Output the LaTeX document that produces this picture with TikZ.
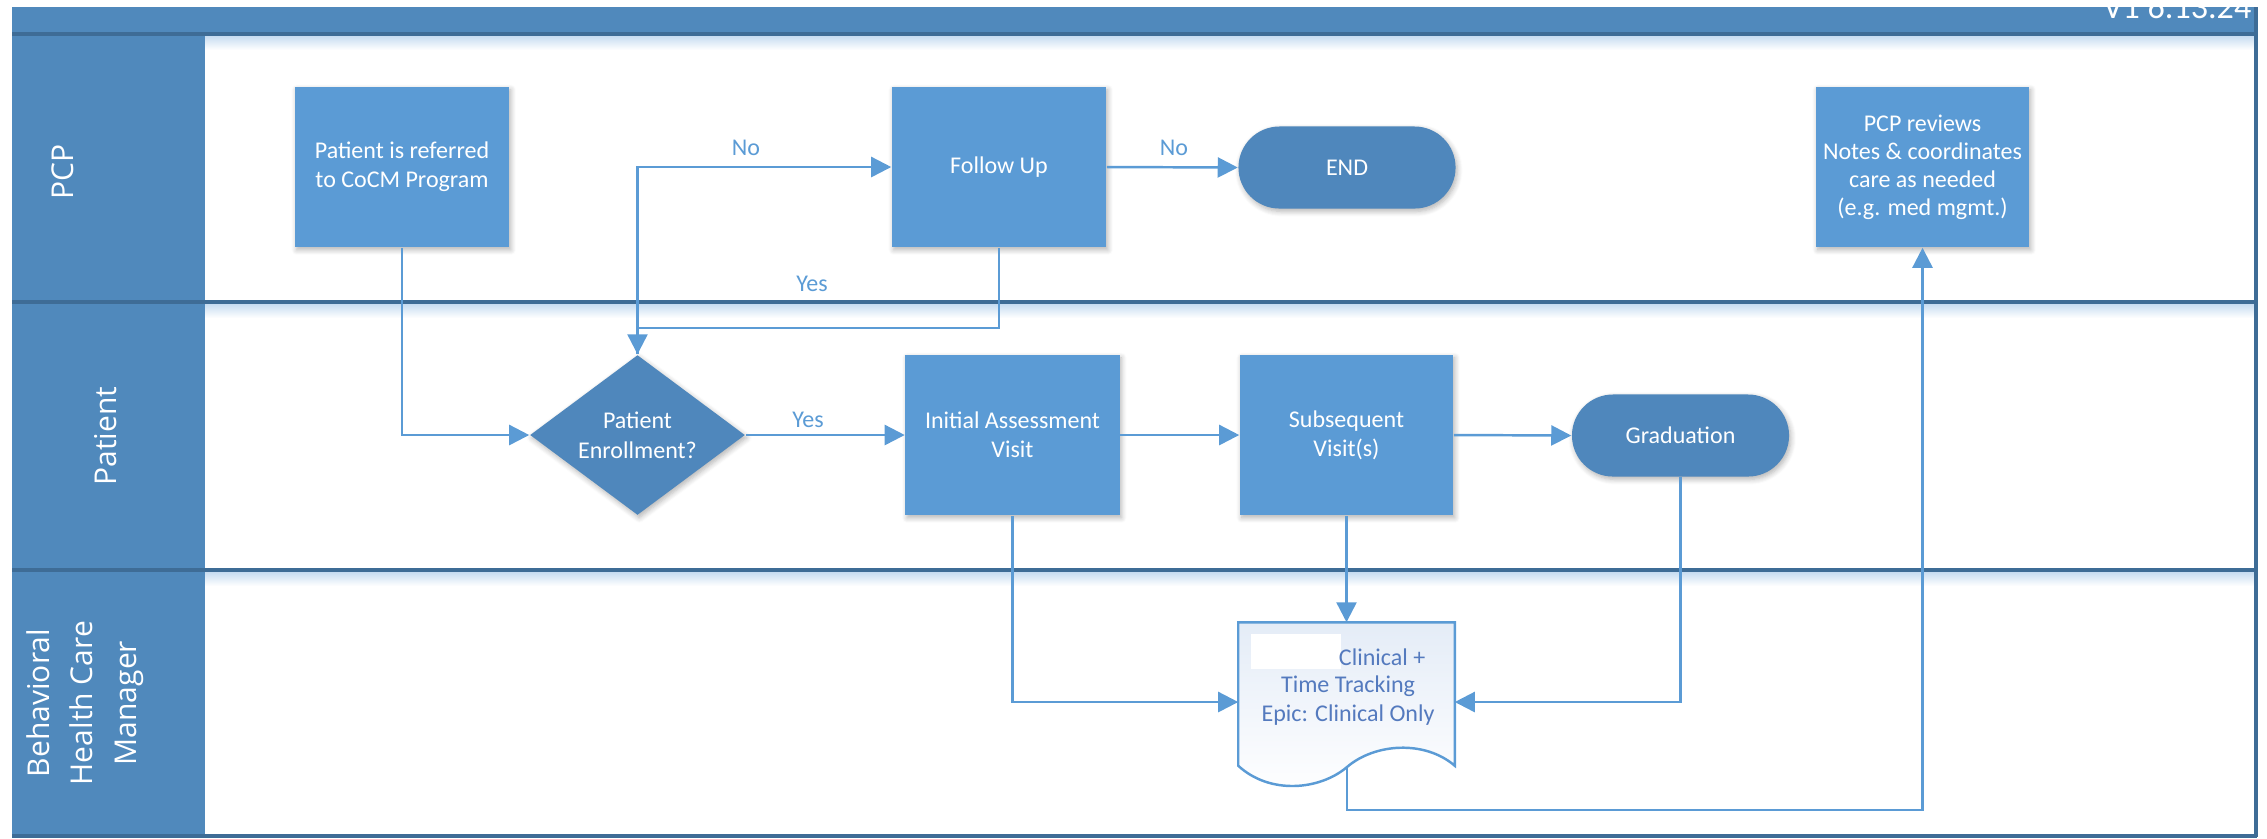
\documentclass[tikz,border=0pt]{standalone}
\usepackage{fontspec}
\setmainfont{Carlito}
\newfontfamily\lanefont{Open Sans}
\usetikzlibrary{arrows.meta,shapes.geometric,shadows.blur,calc}
\definecolor{procblue}{RGB}{91,155,213}
\definecolor{darkfill}{RGB}{79,135,188}
\definecolor{hdrblue}{RGB}{80,137,188}
\definecolor{divline}{RGB}{62,108,150}
\definecolor{shadeblue}{RGB}{195,218,240}
\definecolor{doctop}{RGB}{228,236,247}
\definecolor{doctext}{RGB}{84,122,190}
\newcommand{\boxfont}{\fontsize{6.83pt}{8.25pt}\selectfont}
\newcommand{\lanesize}{\lanefont\fontsize{8.54pt}{12.4pt}\selectfont}
\begin{document}
\begin{tikzpicture}[x=0.01cm,y=-0.01cm,
  softshadow/.style={blur shadow={shadow xshift=0.5pt, shadow yshift=-0.8pt, shadow blur radius=1.5pt, shadow opacity=30, shadow blur steps=6}},
  proc/.style={rectangle, fill=procblue, text=white, align=center, font=\boxfont, inner sep=0pt, minimum width=2.14cm, minimum height=1.6cm, softshadow},
  term/.style={rectangle, rounded corners=0.41cm, fill=darkfill, text=white, font=\boxfont, inner sep=0pt, minimum width=2.17cm, minimum height=0.82cm, softshadow},
  decision/.style={diamond, aspect=1.5, fill=darkfill, text=white, align=center, inner sep=0pt, minimum width=2.15cm, minimum height=1.6cm, softshadow},
  conn/.style={draw=procblue, line width=0.7pt},
  arr/.style={conn, -{Triangle[length=0.2cm, width=0.2cm]}},
  flowlabel/.style={text=procblue, font=\boxfont, inner sep=0pt},
  lanelabel/.style={text=white, font=\lanesize, rotate=90, align=center, inner sep=0pt},
  divider/.style={draw=divline, line width=1pt},
  doclabel/.style={text=doctext, font=\boxfont, inner sep=0pt},
]
\useasboundingbox (0,0) rectangle (2267,838);
% lanes background
\fill[hdrblue] (12,7) rectangle (2257,34);
\fill[hdrblue] (12,34) rectangle (205,836);
\shade[top color=shadeblue, bottom color=white] (205,35) rectangle (2255,50);
\shade[top color=shadeblue, bottom color=white] (205,303) rectangle (2255,318);
\shade[top color=shadeblue, bottom color=white] (205,571) rectangle (2255,586);
\draw[divider] (12,34) -- (2257,34);
\draw[divider] (12,302) -- (2257,302);
\draw[divider] (12,570) -- (2257,570);
\draw[divider] (2256,7) -- (2256,837);
\draw[divider] (12,836) -- (2257,836);
\node[anchor=base east, text=white, font=\fontsize{9.7pt}{11pt}\selectfont, inner sep=0pt] (ver) at (2252,18) {V1 6.13.24};
% lane labels
\node[lanelabel] (lpcp) at (63,172) {PCP};
\node[lanelabel] (lpat) at (106,436) {Patient};
\node[lanelabel] (lbh) at (85,703) {Behavioral\\Health Care\\Manager};
% shapes
\node[proc] (ref) at (402,167) {Patient is referred\\to CoCM Program};
\node[proc] (fu) at (999,167) {Follow Up};
\node[term] (endnode) at (1347,167.5) {END};
\node[proc, minimum width=2.13cm, font=\fontsize{6.83pt}{8pt}\selectfont] (pcpr) at (1922.5,167) {PCP reviews\\Notes \& coordinates\\care as needed\\(e.g. med mgmt.)};
\node[decision, font=\fontsize{6.83pt}{8.6pt}\selectfont] (dec) at (637.5,435) {Patient\\Enrollment?};
\node[proc] (init) at (1012.5,435) {Initial Assessment\\Visit};
\node[proc, minimum width=2.13cm] (subs) at (1346.5,435) {Subsequent\\Visit(s)};
\node[term] (grad) at (1680.5,435.5) {Graduation};
\node[minimum width=2.15cm, minimum height=1.42cm, inner sep=0pt] (doc) at (1346.5,694) {};
\path[draw=procblue, line width=0.7pt, top color=doctop, bottom color=white]
  (doc.south west) -- (doc.north west) -- (doc.north east) -- (doc.south east)
  .. controls (1425,740) and (1375,743) .. (1347,767)
  .. controls (1320,790) and (1270,795) .. (doc.south west) -- cycle;
\coordinate (docout) at (1347,767);
\fill[white] (1251,634) rectangle (1341,669);
\node[doclabel, anchor=east] (doct1) at (1426,657) {Clinical +};
\node[doclabel] (doct2) at (1348,686) {Time Tracking};
\node[doclabel] (doct3) at (1348,715) {Epic: Clinical Only};
% connectors
\coordinate (yesy) at (999,328);
\coordinate (loopc) at (1347,810);
\draw[arr] (ref.south) |- (dec.west);
\draw[arr] (dec.north) |- (fu.west);
\draw[arr] (fu.south) |- (dec.north |- yesy) -- (dec.north);
\draw[arr] (fu.east) -- (endnode.west);
\draw[arr] (dec.east) -- (init.west);
\draw[arr] (init.east) -- (subs.west);
\draw[arr] (subs.east) -- (grad.west);
\draw[arr] (subs.south) -- (doc.north);
\draw[arr] (init.south) |- ([yshift=-0.08cm]doc.west);
\draw[arr] (grad.south) |- ([yshift=-0.08cm]doc.east);
\draw[arr] (docout) -- (loopc) -| (pcpr.south);
% labels
\node[flowlabel] (lno1) at (746,148) {No};
\node[flowlabel] (lno2) at (1174,148) {No};
\node[flowlabel] (lyes1) at (812,284) {Yes};
\node[flowlabel] (lyes2) at (808,420) {Yes};
\end{tikzpicture}
\end{document}
